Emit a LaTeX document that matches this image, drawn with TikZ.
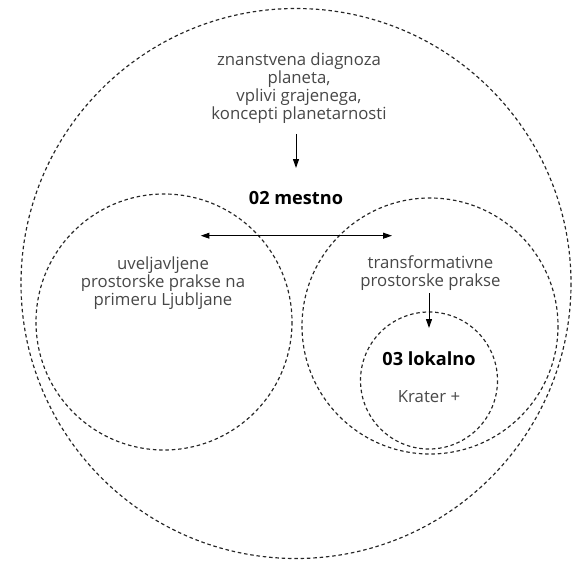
\documentclass[tikz,border=0pt]{standalone}
\usepackage{fontspec}
\setmainfont{Open Sans}
\usetikzlibrary{arrows.meta,positioning}
\tikzset{
	zone/.style={draw=black!85, line width=1pt, dash pattern=on 3pt off 2.4pt},
	label/.style={align=center, text=black!72, inner sep=0pt, font=\fontsize{14.3}{15.4}\selectfont},
	title/.style={font=\fontsize{15.5}{17}\selectfont\bfseries, text=black, inner sep=0pt},
	flow/.style={>={Triangle[length=7.5pt,width=5pt]}, line width=0.85pt}
}

\begin{document}
\begin{tikzpicture}[x=0.03cm, y=-0.03cm]
        \useasboundingbox (0,0) rectangle (585,566);
        % circles
        \draw[zone] (296,283.5) circle (275);
        \draw[zone] (164,322) circle (128);
        \draw[zone] (430,326) circle (128);
        \draw[zone] (429,380.5) circle (68.5);
        % texts
        \node[label] (global) at (299,88) {znanstvena diagnoza\\planeta,\\vplivi grajenega,\\koncepti planetarnosti};
        \node[title] (mestno) at (296,198) {02 mestno};
        \node[label] (uvelj) at (163,283) {uveljavljene\\prostorske prakse na\\primeru Ljubljane};
        \node[label] (transf) at (430.5,273) {transformativne\\prostorske prakse};
        \node[title] (lokalno) at (429,359) {03 lokalno};
        \node[label] (krater) at (429,397) {Krater +};
        % arrows
        \coordinate (gfoot) at (296,134);
        \coordinate (mhead) at (296,168);
        \coordinate (west) at (200.7,235.7);
        \coordinate (east) at (392,235.7);
        \coordinate (tfoot) at (429,293);
        \coordinate (lhead) at (429,328);
        \draw[flow, ->] (gfoot) -- (mhead);
        \draw[flow, <->] (west) -- (east);
        \draw[flow, ->] (tfoot) -- (lhead);
    \end{tikzpicture}
\end{document}
